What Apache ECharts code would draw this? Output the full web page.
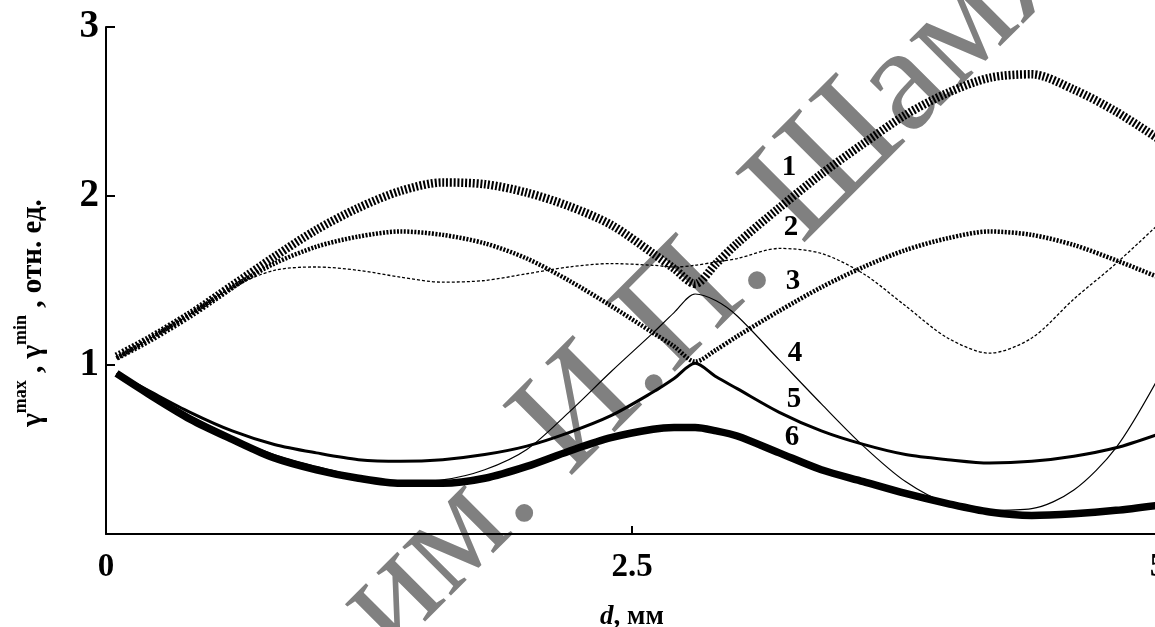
<!DOCTYPE html>
<html>
<head>
<meta charset="utf-8">
<script src="https://cdn.jsdelivr.net/npm/echarts@6/dist/echarts.min.js"></script>
<style>
  html, body { margin: 0; padding: 0; background: #fff; }
  #chart { width: 1155px; height: 627px; }
</style>
</head>
<body>
<div id="chart"></div>
<script>
// толщина d, мм
const dValues = [0.05, 0.2, 0.4, 0.6, 0.8, 1.0, 1.2, 1.4, 1.6, 1.8, 2.0, 2.2, 2.4, 2.6, 2.7, 2.8, 2.9,
  3.0, 3.2, 3.4, 3.6, 3.8, 4.0, 4.2, 4.4, 4.6, 4.8, 5.0]

// кривые 1..6
const curve1 = [1.05, 1.15, 1.30, 1.47, 1.64, 1.80, 1.93, 2.03, 2.08, 2.07, 2.02, 1.94, 1.83, 1.66, 1.57, 1.48, 1.60,
  1.72, 1.93, 2.13, 2.31, 2.48, 2.61, 2.70, 2.72, 2.63, 2.50, 2.34]
const curve2 = [1.04, 1.15, 1.30, 1.46, 1.60, 1.70, 1.76, 1.79, 1.77, 1.72, 1.63, 1.50, 1.35, 1.19, 1.11, 1.02, 1.09,
  1.17, 1.32, 1.46, 1.58, 1.68, 1.75, 1.79, 1.77, 1.71, 1.62, 1.52]
const curve3 = [1.04, 1.15, 1.30, 1.46, 1.56, 1.58, 1.56, 1.52, 1.49, 1.50, 1.54, 1.58, 1.60, 1.59, 1.58, 1.59, 1.61,
  1.63, 1.69, 1.66, 1.54, 1.35, 1.16, 1.07, 1.16, 1.39, 1.60, 1.83]
const curve4 = [0.95, 0.84, 0.70, 0.57, 0.47, 0.40, 0.34, 0.31, 0.32, 0.38, 0.50, 0.72, 0.96, 1.19, 1.31, 1.42, 1.38,
  1.29, 1.03, 0.77, 0.52, 0.31, 0.18, 0.14, 0.15, 0.26, 0.51, 0.92]
const curve5 = [0.95, 0.85, 0.72, 0.61, 0.53, 0.48, 0.44, 0.43, 0.44, 0.47, 0.52, 0.60, 0.70, 0.84, 0.92, 1.01, 0.93,
  0.86, 0.72, 0.61, 0.53, 0.47, 0.44, 0.42, 0.43, 0.46, 0.51, 0.59]
const curve6 = [0.95, 0.83, 0.68, 0.56, 0.45, 0.38, 0.33, 0.30, 0.30, 0.33, 0.40, 0.49, 0.57, 0.62, 0.63, 0.63, 0.61,
  0.58, 0.48, 0.38, 0.31, 0.24, 0.18, 0.13, 0.11, 0.12, 0.14, 0.17]

const xTickValues = [0, 2.5, 5]
const xTickLabels = ['0', '2.5', '5']
const yTickValues = [1, 2, 3]
const yTickLabels = ['1', '2', '3']
const curveNames = ['1', '2', '3', '4', '5', '6']

const serif = 'Liberation Serif'
const chart = echarts.init(document.getElementById('chart'))

function pairs(ys) {
  return dValues.map((d, i) => [d, ys[i]])
}

function line(name, ys, width, type) {
  return {
    name: name,
    type: 'line',
    data: pairs(ys),
    smooth: 0.3,
    symbol: 'none',
    silent: true,
    z: 3,
    lineStyle: { color: '#000', width: width, type: type, cap: 'butt' }
  }
}

// подписи кривых (пиксели)
const tagPos = [[789, 168], [791, 228], [793, 282], [795, 354], [794, 400], [792, 438]]

const option = {
  animation: false,
  backgroundColor: '#fff',
  grid: { left: 106, top: 27, width: 1052, height: 507, containLabel: false, outerBoundsMode: 'none' },
  xAxis: {
    type: 'value',
    min: 0,
    max: 5,
    interval: 2.5,
    name: '{i|d}{n|, мм}',
    nameLocation: 'middle',
    nameGap: 70,
    nameTextStyle: {
      rich: {
        i: { fontFamily: serif, fontSize: 27, fontWeight: 'bold', fontStyle: 'italic', color: '#000' },
        n: { fontFamily: serif, fontSize: 27, fontWeight: 'bold', color: '#000' }
      }
    },
    axisLine: { lineStyle: { color: '#000', width: 2 } },
    axisTick: { inside: true, length: 8, lineStyle: { color: '#000', width: 2 } },
    axisLabel: {
      margin: 17,
      fontFamily: serif,
      fontWeight: 'bold',
      fontSize: 33,
      color: '#000',
      formatter: v => xTickLabels[xTickValues.indexOf(v)]
    },
    splitLine: { show: false }
  },
  yAxis: {
    type: 'value',
    min: 0,
    max: 3,
    interval: 1,
    axisLine: { lineStyle: { color: '#000', width: 2 } },
    axisTick: { inside: true, length: 9, lineStyle: { color: '#000', width: 2 } },
    axisLabel: {
      margin: 7,
      fontFamily: serif,
      fontWeight: 'bold',
      fontSize: 39,
      color: '#000',
      showMinLabel: false,
      formatter: v => yTickLabels[yTickValues.indexOf(v)] || ''
    },
    splitLine: { show: false }
  },
  graphic: [
    {
      type: 'text',
      z: 0,
      x: 417,
      y: 680,
      rotation: Math.PI / 4,
      style: {
        text: 'им. И.П. Шамякина',
        font: '150px "Liberation Serif"',
        fill: '#808080',
        textAlign: 'left',
        textVerticalAlign: 'bottom'
      }
    },
    {
      type: 'text',
      z: 10,
      x: 30,
      y: 313,
      rotation: Math.PI / 2,
      style: {
        text: '{g|γ}{s|max}{g| , γ}{s|min}{g| , отн. ед.}',
        textAlign: 'center',
        textVerticalAlign: 'middle',
        rich: {
          g: { fontFamily: serif, fontSize: 29, fontWeight: 'bold', fill: '#000', lineHeight: 36, verticalAlign: 'bottom' },
          s: { fontFamily: serif, fontSize: 18, fontWeight: 'bold', fill: '#000', lineHeight: 18, verticalAlign: 'top' }
        }
      }
    }
  ].concat(curveNames.map((n, i) => ({
    type: 'text',
    z: 10,
    x: tagPos[i][0],
    y: tagPos[i][1],
    style: {
      text: n,
      font: 'bold 29px "Liberation Serif"',
      fill: '#000',
      textAlign: 'center',
      textVerticalAlign: 'middle'
    }
  }))),
  series: [
    line('1', curve1, 8.5, [2, 1.8]),
    line('2', curve2, 4.5, [2, 1.5]),
    line('3', curve3, 1.3, [3, 2]),
    line('4', curve4, 1.2, 'solid'),
    line('5', curve5, 3, 'solid'),
    line('6', curve6, 7.5, 'solid')
  ]
}

chart.setOption(option)
</script>
</body>
</html>
